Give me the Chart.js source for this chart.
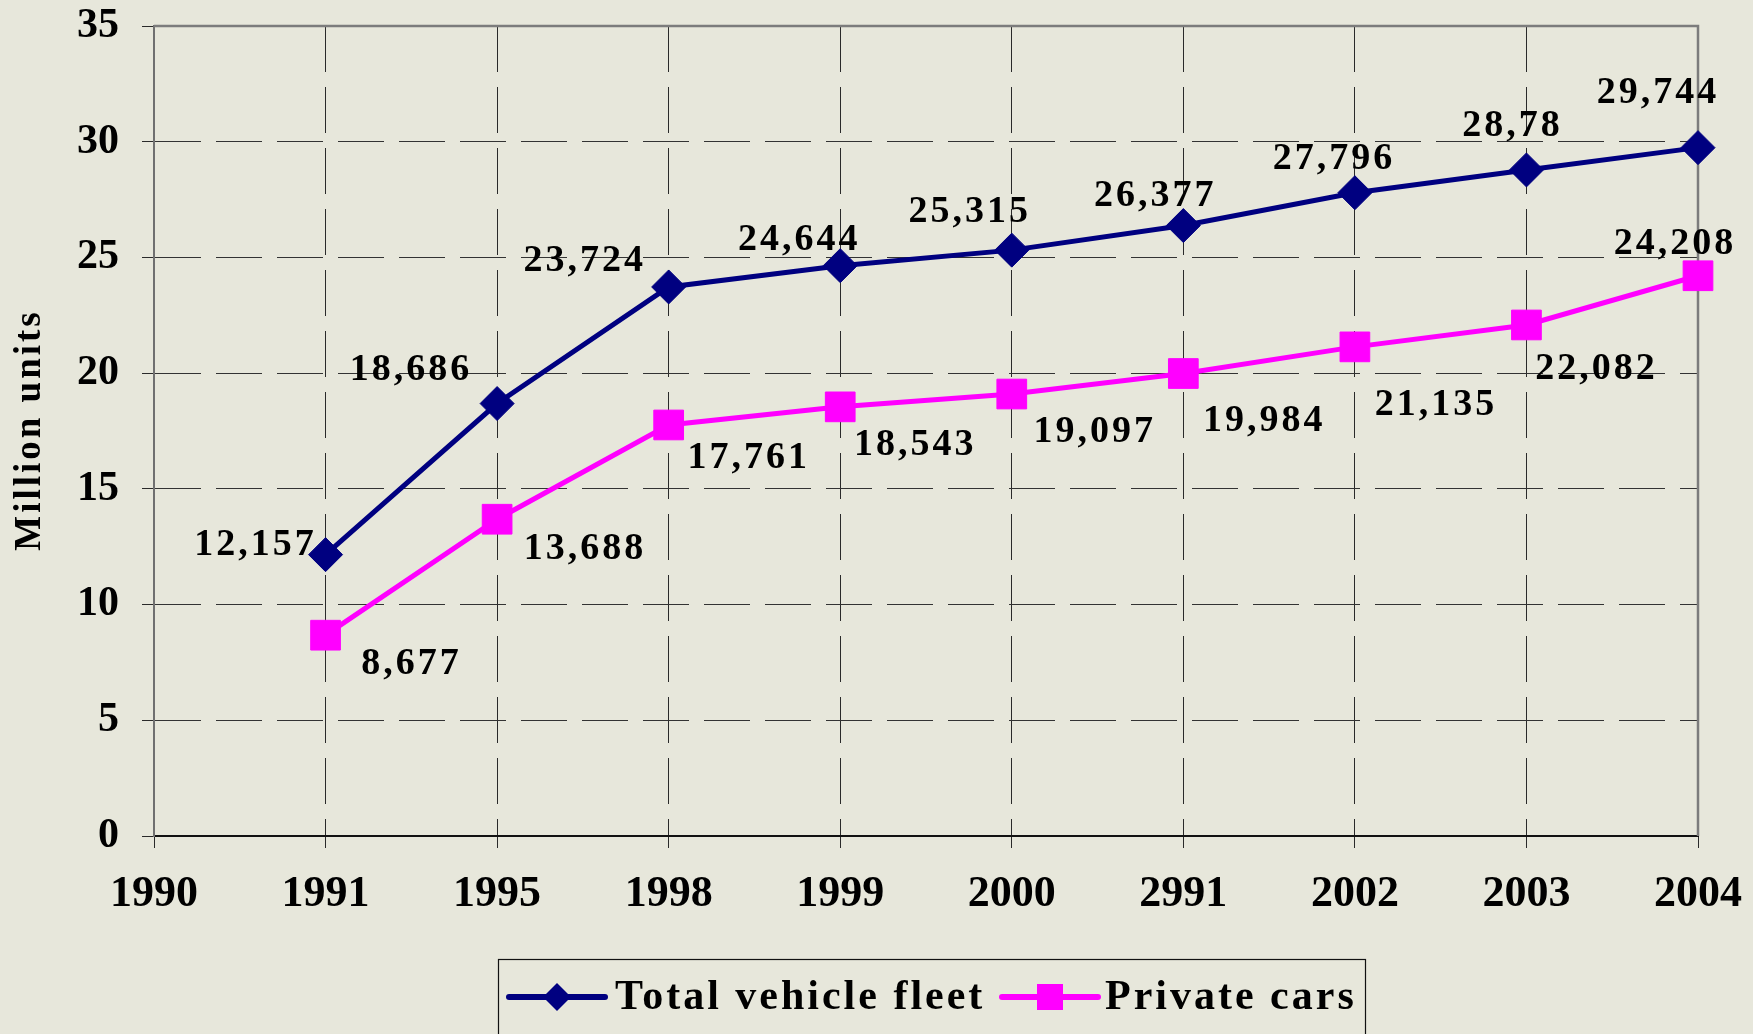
<!DOCTYPE html>
<html>
<head>
<meta charset="utf-8">
<title>Vehicle fleet</title>
<script src="https://cdn.jsdelivr.net/npm/chart.js@4.4.0/dist/chart.umd.min.js"></script>
<style>
    html, body { margin: 0; padding: 0; background: #e7e7db; }
    #wrap { width: 1753px; height: 1034px; position: relative; }
</style>
</head>
<body>
<div id="wrap"><canvas id="fleetChart"></canvas></div>
<script>
// data
const years = ["1990", "1991", "1995", "1998", "1999", "2000", "2991", "2002", "2003", "2004"]
const totalFleet = [null, 12.157, 18.686, 23.724, 24.644, 25.315, 26.377, 27.796, 28.78, 29.744]
const privateCars = [null, 8.677, 13.688, 17.761, 18.543, 19.097, 19.984, 21.135, 22.082, 24.208]
const yMin = 0
const yMax = 35
const yStep = 5
const yTitle = "Million units"
const seriesNames = ["Total vehicle fleet", "Private cars"]

// where each value label sits, relative to its point (px)
const totalLabelPos = [null, [-70, -9], [-86, -33], [-84, -26], [-41, -25], [-42, -38], [-28, -29], [-21, -34], [-14, -44], [-40, -54]]
const privateLabelPos = [null, [86, 29], [88, 30], [80, 33], [75, 38], [83, 38], [81, 48], [81, 58], [70, 44], [-23, -32]]

const serif = "'Liberation Serif', 'Times New Roman', serif"

const paper = {
    id: "paper",
    beforeDraw(chart) {
        const ctx = chart.ctx
        ctx.save()
        ctx.fillStyle = "#e7e7db"
        ctx.fillRect(0, 0, chart.width, chart.height)
        ctx.restore()
    },
    beforeDatasetsDraw(chart) {
        // top and right edge of the plot box
        const ctx = chart.ctx
        const a = chart.chartArea
        ctx.save()
        ctx.strokeStyle = "#7c7c7c"
        ctx.lineWidth = 2.5
        ctx.beginPath()
        ctx.moveTo(a.left, a.top)
        ctx.lineTo(a.right, a.top)
        ctx.lineTo(a.right, a.bottom)
        ctx.stroke()
        ctx.restore()
    }
}

const valueLabels = {
    id: "valueLabels",
    afterDatasetsDraw(chart) {
        const ctx = chart.ctx
        ctx.save()
        ctx.font = "bold 38px " + serif
        ctx.letterSpacing = "3px"
        ctx.fillStyle = "#000"
        ctx.textAlign = "center"
        ctx.textBaseline = "middle"
        chart.data.datasets.forEach((ds, d) => {
            const meta = chart.getDatasetMeta(d)
            meta.data.forEach((pt, i) => {
                const v = ds.data[i]
                if (v === null) return
                const off = ds.labelPos[i]
                ctx.fillText(String(v).replace(".", ","), pt.x + off[0], pt.y + off[1])
            })
        })
        ctx.restore()
    }
}

function marker(ctx, style, x, y, r) {
    ctx.beginPath()
    if (style === "rectRot") {
        ctx.moveTo(x, y - r)
        ctx.lineTo(x + r, y)
        ctx.lineTo(x, y + r)
        ctx.lineTo(x - r, y)
    } else {
        ctx.rect(x - r, y - r, 2 * r, 2 * r)
    }
    ctx.closePath()
    ctx.fill()
}

const boxLegend = {
    id: "boxLegend",
    afterDraw(chart) {
        const ctx = chart.ctx
        ctx.save()

        // y axis title
        ctx.font = "bold 37px " + serif
        ctx.letterSpacing = "3px"
        ctx.fillStyle = "#000"
        ctx.textAlign = "center"
        ctx.textBaseline = "middle"
        ctx.translate(30, 430)
        ctx.rotate(-Math.PI / 2)
        ctx.fillText(yTitle, 0, 0)
        ctx.setTransform(1, 0, 0, 1, 0, 0)

        // legend box
        ctx.strokeStyle = "#111"
        ctx.lineWidth = 1.2
        ctx.strokeRect(498.5, 959.5, 867, 120)

        const entries = [
            { lineX: 509, textX: 615, r: 14 },
            { lineX: 1002, textX: 1105, r: 13 }
        ]
        const y = 997
        ctx.font = "bold 42px " + serif
        ctx.letterSpacing = "3px"
        ctx.textAlign = "left"
        ctx.textBaseline = "alphabetic"
        chart.data.datasets.forEach((ds, i) => {
            const e = entries[i]
            ctx.strokeStyle = ds.borderColor
            ctx.fillStyle = ds.borderColor
            ctx.lineWidth = 6
            ctx.lineCap = "round"
            ctx.beginPath()
            ctx.moveTo(e.lineX, y)
            ctx.lineTo(e.lineX + 96, y)
            ctx.stroke()
            marker(ctx, ds.pointStyle, e.lineX + 48, y, e.r)
            ctx.fillStyle = "#000"
            ctx.fillText(ds.label, e.textX, 1009)
        })
        ctx.restore()
    }
}

const fleetChart = new Chart(
    document.getElementById("fleetChart"),
    {
        type: "line",
        data: {
            labels: years,
            datasets: [{
                label: seriesNames[0],
                data: totalFleet,
                labelPos: totalLabelPos,
                borderColor: "#000080",
                backgroundColor: "#000080",
                borderWidth: 5,
                pointStyle: "rectRot",
                pointRadius: 17,
                pointBorderWidth: 1,
                tension: 0
            }, {
                label: seriesNames[1],
                data: privateCars,
                labelPos: privateLabelPos,
                borderColor: "#ff00ff",
                backgroundColor: "#ff00ff",
                borderWidth: 5,
                pointStyle: "rect",
                pointRadius: 21,
                pointBorderWidth: 1,
                tension: 0
            }]
        },
        options: {
            responsive: true,
            maintainAspectRatio: false,
            animation: false,
            layout: {
                padding: { left: 0, top: 26, right: 55, bottom: 98 }
            },
            plugins: {
                legend: { display: false },
                tooltip: { enabled: false }
            },
            scales: {
                x: {
                    type: "category",
                    offset: false,
                    afterFit: s => {
                        s.height = 100
                        s.paddingLeft = 0
                        s.paddingRight = 0
                    },
                    grid: {
                        color: "#2a2a2a",
                        lineWidth: 1,
                        tickLength: 12,
                        tickColor: "#2a2a2a",
                        tickWidth: 1
                    },
                    border: {
                        display: true,
                        color: "#111",
                        width: 2,
                        dash: [46, 15]
                    },
                    ticks: {
                        color: "#000",
                        font: { family: serif, size: 44, weight: "bold" },
                        padding: 20,
                        maxRotation: 0,
                        autoSkip: false
                    }
                },
                y: {
                    min: yMin,
                    max: yMax,
                    afterFit: s => {
                        s.width = 154
                        s.paddingTop = 0
                        s.paddingBottom = 0
                    },
                    grid: {
                        color: "#333",
                        lineWidth: 1,
                        tickLength: 12,
                        tickColor: "#2a2a2a",
                        tickWidth: 1
                    },
                    border: {
                        display: true,
                        color: "#707070",
                        width: 2,
                        dash: [46, 15]
                    },
                    ticks: {
                        stepSize: yStep,
                        color: "#000",
                        font: { family: serif, size: 42, weight: "bold" },
                        padding: 23
                    }
                }
            }
        },
        plugins: [paper, valueLabels, boxLegend]
    }
)
</script>
</body>
</html>
